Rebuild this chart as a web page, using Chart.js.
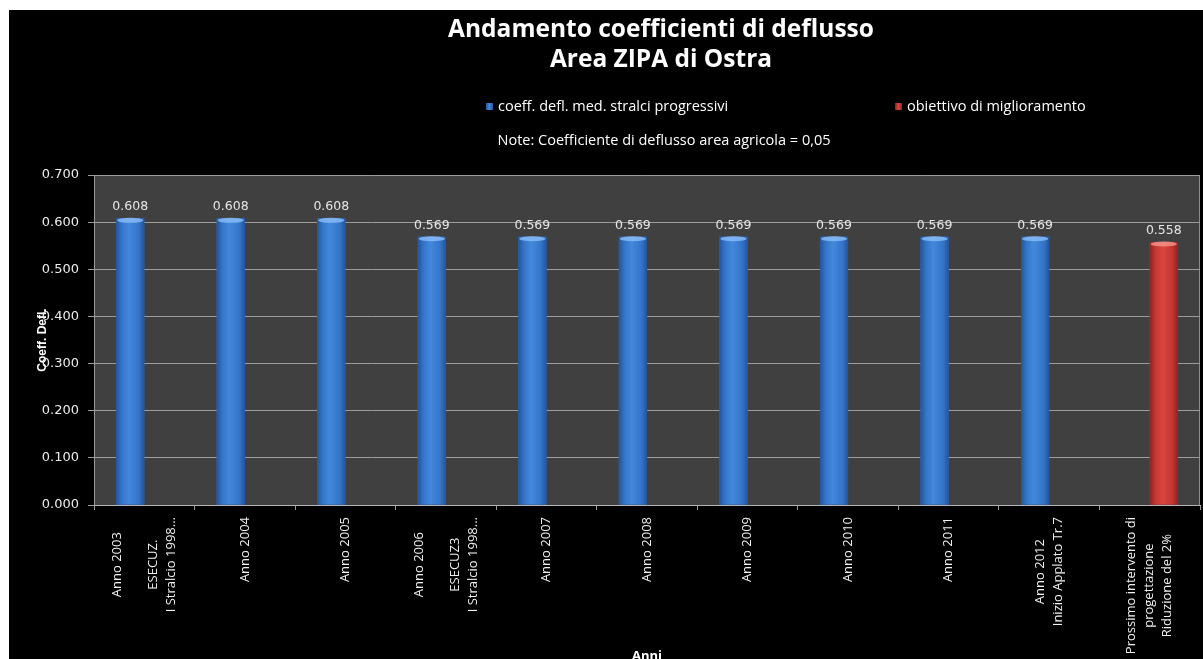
<!DOCTYPE html>
<html>
<head>
<meta charset="utf-8">
<title>Andamento coefficienti di deflusso</title>
<script src="https://cdn.jsdelivr.net/npm/chart.js@4.4.1/dist/chart.umd.min.js"></script>
<style>
  html, body { margin: 0; padding: 0; background: #fff; overflow: hidden; }
  #wrap { position: absolute; left: 9px; top: 10px; width: 1194px; height: 661px; background: #000; }
</style>
</head>
<body>
<div id="wrap"><canvas id="deflChart"></canvas></div>
<script>
// anni e stralci (righe dell'etichetta)
const categories = [
  ["Anno 2003", "", "ESECUZ.", "I Stralcio 1998..."],
  ["Anno 2004"],
  ["Anno 2005"],
  ["Anno 2006", "", "ESECUZ3", "I Stralcio 1998..."],
  ["Anno 2007"],
  ["Anno 2008"],
  ["Anno 2009"],
  ["Anno 2010"],
  ["Anno 2011"],
  ["Anno 2012", "Inizio Applato Tr.7"],
  ["Prossimo intervento di", "progettazione", "Riduzione del 2%"]
];
const coeffStralci = [0.608, 0.608, 0.608, 0.569, 0.569, 0.569, 0.569, 0.569, 0.569, 0.569, null];
const obiettivo = [null, null, null, null, null, null, null, null, null, null, 0.558];
const seriesNames = ["coeff. defl. med. stralci progressivi", "obiettivo di miglioramento"];
const titleLines = ["Andamento coefficienti di deflusso", "Area ZIPA di Ostra"];
const noteText = "Note: Coefficiente di deflusso area agricola = 0,05";
const yMin = 0, yMax = 0.7, yStep = 0.1;

// colori delle barre: base, bordi scuri, centro chiaro, riflesso in alto
const shades = [
  { base: "#3475c8", edge: "#24549c", light: "#4388dc", cap: "rgba(140,190,250,0.8)" },
  { base: "#c43733", edge: "#8c2421", light: "#d9463f", cap: "rgba(245,150,140,0.8)" }
];

// sfondo e cornice dell'area del grafico
const plotArea = {
  id: "plotArea",
  beforeDraw(chart) {
    const { ctx, chartArea: a } = chart;
    ctx.save();
    ctx.fillStyle = "#404040";
    ctx.fillRect(a.left, a.top, a.right - a.left, a.bottom - a.top);
    ctx.strokeStyle = "#8c8c8c";
    ctx.lineWidth = 1;
    ctx.beginPath();
    ctx.moveTo(a.left, a.top + 0.5);
    ctx.lineTo(a.right - 0.5, a.top + 0.5);
    ctx.lineTo(a.right - 0.5, a.bottom);
    ctx.stroke();
    ctx.restore();
  }
};

// effetto cilindro + valori sopra le barre
const barLook = {
  id: "barLook",
  afterDatasetsDraw(chart) {
    const ctx = chart.ctx;
    chart.data.datasets.forEach((ds, di) => {
      const meta = chart.getDatasetMeta(di);
      const sh = shades[di];
      meta.data.forEach((bar, i) => {
        const v = ds.data[i];
        if (v == null) return;
        const left = bar.x - bar.width / 2;
        const w = bar.width;
        ctx.save();
        const g = ctx.createLinearGradient(left, 0, left + w, 0);
        g.addColorStop(0, sh.edge);
        g.addColorStop(0.2, sh.base);
        g.addColorStop(0.45, sh.light);
        g.addColorStop(0.8, sh.base);
        g.addColorStop(1, sh.edge);
        ctx.fillStyle = g;
        ctx.fillRect(left, bar.y, w, bar.base - bar.y);
        ctx.fillStyle = sh.cap;
        ctx.beginPath();
        ctx.ellipse(bar.x, bar.y + 2, w / 2 - 1, 2.5, 0, 0, Math.PI * 2);
        ctx.fill();

        ctx.fillStyle = "#e6e6e6";
        ctx.font = "12.5px 'DejaVu Sans'";
        ctx.textAlign = "center";
        ctx.textBaseline = "alphabetic";
        ctx.fillText(v.toFixed(3), bar.x, bar.y - 8);
        ctx.restore();
      });
    });
  }
};

// etichette dell'asse X verticali, righe centrate nel blocco
const xLabels = {
  id: "xLabels",
  afterDraw(chart) {
    const { ctx, chartArea } = chart;
    const xs = chart.scales.x;
    const lineGap = 18;
    const top = chartArea.bottom + 12;
    ctx.save();
    ctx.font = "13px 'Open Sans'";
    ctx.fillStyle = "#f0f0f0";
    ctx.textAlign = "center";
    ctx.textBaseline = "middle";
    chart.data.labels.forEach((lines, i) => {
      const cx = xs.getPixelForTick(i);
      const widest = Math.max(...lines.map(t => ctx.measureText(t).width));
      lines.forEach((t, j) => {
        if (!t) return;
        const x = cx + (j - (lines.length - 1) / 2) * lineGap;
        ctx.save();
        ctx.translate(x, top + widest / 2);
        ctx.rotate(-Math.PI / 2);
        ctx.fillText(t, 0, 0);
        ctx.restore();
      });
    });
    ctx.restore();
  }
};

// titolo, legenda e nota in testa
const header = {
  id: "header",
  afterDraw(chart) {
    const { ctx, chartArea } = chart;
    const cx = (chartArea.left + chartArea.right) / 2;
    ctx.save();
    ctx.fillStyle = "#ffffff";
    ctx.textAlign = "center";
    ctx.textBaseline = "alphabetic";
    ctx.font = "bold 24.5px 'Open Sans'";
    ctx.fillText(titleLines[0], cx + 14, 27);
    ctx.fillText(titleLines[1], cx + 14, 57);

    ctx.font = "14.5px 'Open Sans'";
    ctx.textAlign = "left";
    ctx.textBaseline = "middle";
    const legendX = [cx - 161, cx + 248];
    chart.data.datasets.forEach((ds, di) => {
      const x = legendX[di];
      const sq = ctx.createLinearGradient(x, 0, x + 7, 0);
      sq.addColorStop(0, shades[di].edge);
      sq.addColorStop(0.5, shades[di].light);
      sq.addColorStop(1, shades[di].edge);
      ctx.fillStyle = sq;
      ctx.fillRect(x, 93, 7, 7);
      ctx.fillStyle = "#ffffff";
      ctx.fillText(ds.label, x + 12, 97);
    });

    ctx.textAlign = "center";
    ctx.fillText(noteText, cx + 17, 131);
    ctx.restore();
  }
};

new Chart(document.getElementById("deflChart"), {
  type: "bar",
  data: {
    labels: categories,
    datasets: [
      { label: seriesNames[0], data: coeffStralci, backgroundColor: shades[0].base,
        categoryPercentage: 0.56, barPercentage: 1 },
      { label: seriesNames[1], data: obiettivo, backgroundColor: shades[1].base,
        categoryPercentage: 0.56, barPercentage: 1 }
    ]
  },
  options: {
    responsive: true,
    maintainAspectRatio: false,
    animation: false,
    layout: { padding: { top: 165, right: 3, left: 0, bottom: 0 } },
    plugins: { legend: { display: false }, tooltip: { enabled: false } },
    scales: {
      x: {
        afterFit(s) { s.height = 166; },
        grid: { drawOnChartArea: false, drawTicks: true, tickLength: 5, offset: true, color: "#9a9a9a" },
        border: { color: "#b4b4b4" },
        ticks: { display: false },
        title: { display: true, text: "Anni", color: "#ffffff",
                 font: { family: "Open Sans", weight: "bold", size: 13 }, padding: { top: 0, bottom: 7 } }
      },
      y: {
        min: yMin, max: yMax,
        afterFit(s) { s.width = 85; },
        grid: { color: "#9c9c9c", tickLength: 6 },
        border: { color: "#9c9c9c" },
        ticks: { stepSize: yStep, padding: 9, color: "#ececec",
                 font: { family: "DejaVu Sans", size: 13 },
                 callback: v => v.toFixed(3) },
        title: { display: true, text: "Coeff. Defl.", color: "#ffffff",
                 font: { family: "Liberation Sans", weight: "bold", size: 12 }, padding: { top: 26 } }
      }
    }
  },
  plugins: [plotArea, barLook, xLabels, header]
});
</script>
</body>
</html>
